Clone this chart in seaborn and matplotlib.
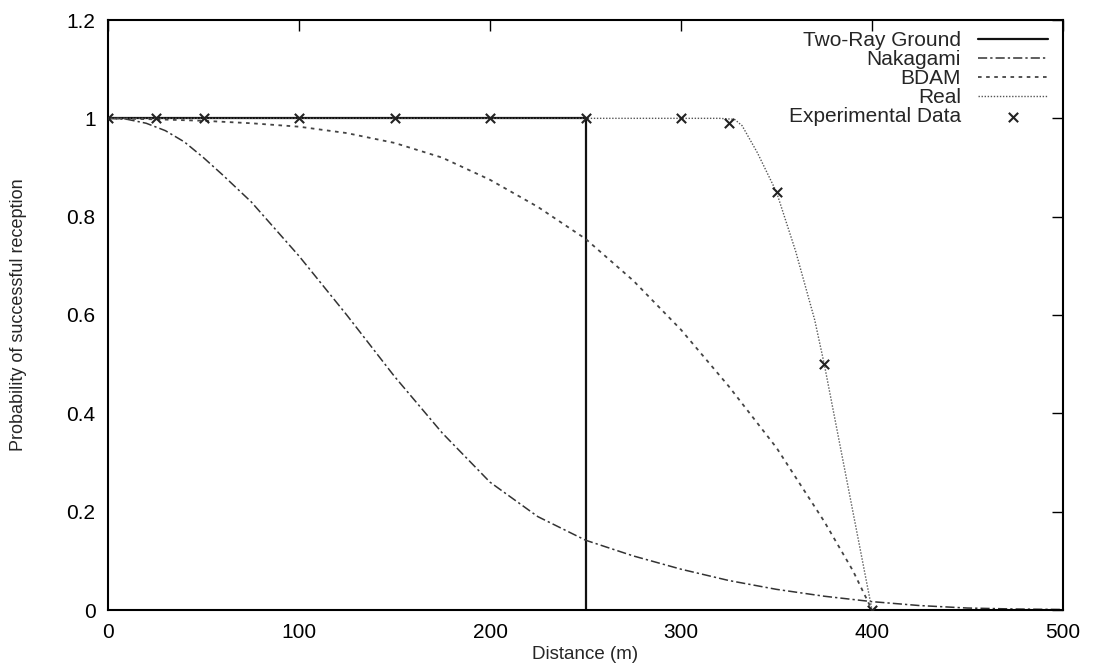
import numpy as np
import pandas as pd
import matplotlib
matplotlib.use('Agg')
import matplotlib.pyplot as plt
import seaborn as sns

# ---------- data ----------
two_ray_x = [0, 250, 250]
two_ray_y = [1.0, 1.0, 0.0]

naka_x = [0, 10, 20, 30, 40, 50, 60, 75, 100, 125, 150, 175, 200, 225, 250,
          275, 300, 325, 350, 375, 400, 425, 450, 475, 500]
naka_y = [1.0, 0.998, 0.99, 0.975, 0.952, 0.92, 0.885, 0.83, 0.72, 0.60,
          0.475, 0.36, 0.26, 0.19, 0.142, 0.11, 0.083, 0.06, 0.042, 0.028,
          0.017, 0.009, 0.004, 0.002, 0.001]

bdam_x = [0, 25, 50, 75, 100, 125, 150, 175, 200, 225, 250, 275, 300, 325,
          350, 375, 390, 400]
bdam_y = [1.0, 0.998, 0.995, 0.99, 0.983, 0.97, 0.95, 0.92, 0.875, 0.82,
          0.755, 0.67, 0.57, 0.455, 0.33, 0.18, 0.08, 0.0]

real_x = [0, 250, 320, 328, 332, 340, 350, 360, 370, 375, 385, 393, 400]
real_y = [1.0, 1.0, 1.0, 0.998, 0.985, 0.93, 0.85, 0.73, 0.59, 0.5, 0.3, 0.14, 0.0]

exp_x = [0, 25, 50, 100, 150, 200, 250, 300, 325, 350, 375, 400]
exp_y = [1.0, 1.0, 1.0, 1.0, 1.0, 1.0, 1.0, 1.0, 0.99, 0.85, 0.5, 0.0]

x_ticks = [0, 100, 200, 300, 400, 500]
y_ticks = [0, 0.2, 0.4, 0.6, 0.8, 1.0, 1.2]
y_tick_labels = ['0', '0.2', '0.4', '0.6', '0.8', '1', '1.2']

# ---------- style ----------
sns.set_theme(style='white')
plt.rcParams['font.family'] = ['Liberation Sans', 'DejaVu Sans']

fig = plt.figure(figsize=(10.95, 6.64), dpi=100)
ax = fig.add_axes([108 / 1095, 1 - 610 / 664, (1063 - 108) / 1095, (610 - 20) / 664])

sns.lineplot(x=two_ray_x, y=two_ray_y, ax=ax, color='#111111', linewidth=1.6,
             sort=False, estimator=None, label='Two-Ray Ground')
sns.lineplot(x=naka_x, y=naka_y, ax=ax, color='#333333', linewidth=1.1,
             linestyle=(0, (6, 2, 1.5, 2)), estimator=None, label='Nakagami')
sns.lineplot(x=bdam_x, y=bdam_y, ax=ax, color='#444444', linewidth=1.3,
             linestyle=(0, (2, 2.5)), estimator=None, label='BDAM')
sns.lineplot(x=real_x, y=real_y, ax=ax, color='#555555', linewidth=1.0,
             linestyle=(0, (1, 1.2)), estimator=None, label='Real')
sns.scatterplot(x=exp_x, y=exp_y, ax=ax, marker='x', color='#222222', s=45,
                linewidth=1.5, label='Experimental Data', zorder=5)

ax.set_xlim(0, 500)
ax.set_ylim(0, 1.2)
ax.set_xticks(x_ticks)
ax.set_yticks(y_ticks)
ax.set_yticklabels(y_tick_labels)
ax.tick_params(direction='in', length=8, width=1, top=True, right=True,
               labelsize=15, colors='black', pad=9)
for sp in ax.spines.values():
    sp.set_color('black')
    sp.set_linewidth(1.5)

ax.set_xlabel('Distance (m)', fontsize=13.5, labelpad=3)
ax.set_ylabel('Probability of successful reception', fontsize=13, labelpad=28)

# gnuplot-like key: label first, right aligned
leg = ax.legend(loc='upper right', markerfirst=False, frameon=False,
                fontsize=15, handlelength=3.4, labelspacing=0.0,
                borderaxespad=0.3, handletextpad=0.8,
                bbox_to_anchor=(1.0, 1.006))
try:
    leg._legend_box.get_children()[1].get_children()[0].align = 'right'
except Exception:
    pass

fig.savefig('out.png', dpi=100)
